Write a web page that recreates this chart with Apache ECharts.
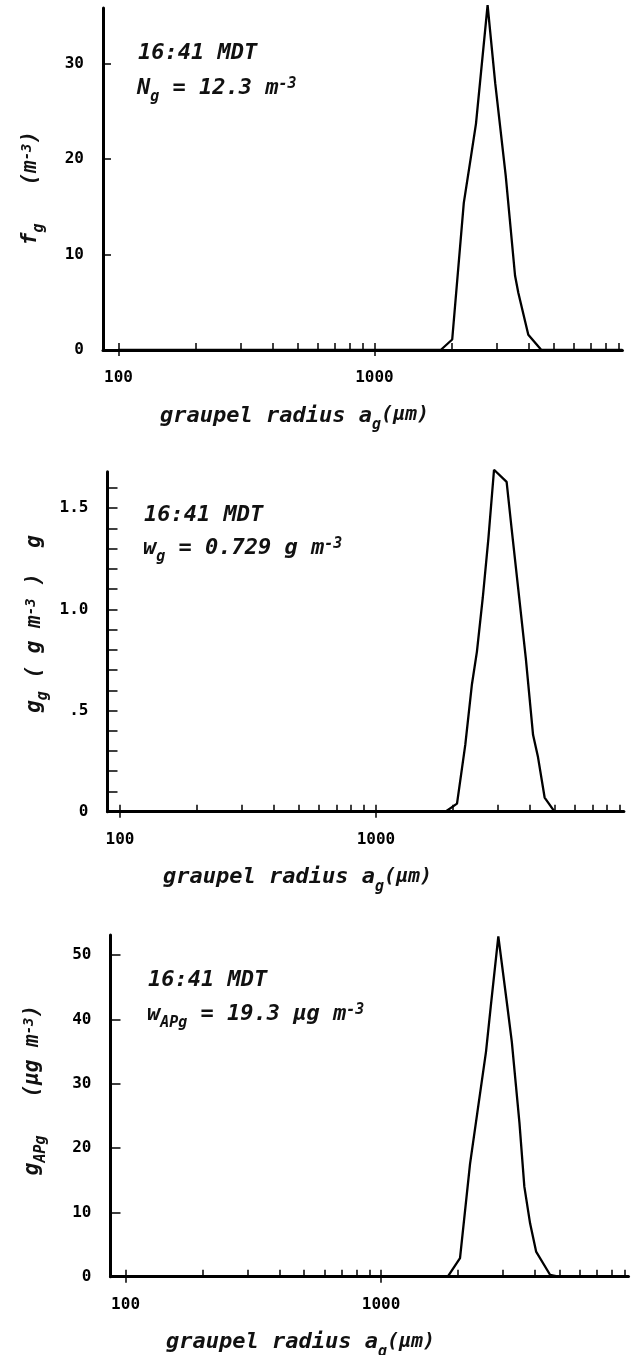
<!DOCTYPE html>
<html>
<head>
<meta charset="utf-8">
<script src="https://cdn.jsdelivr.net/npm/echarts@6/dist/echarts.min.js"></script>
<style>
html,body{margin:0;padding:0;background:#fff;}
#c{width:631px;height:1355px;}
</style>
</head>
<body>
<div id="c"></div>
<script>
// ---------- data ----------
const radiusF = [100, 1814, 2012, 2233, 2371, 2492, 2766, 2963, 3257, 3540, 3646, 3989, 4487, 9300];
const fG      = [0,   0,    1.1,  15.4, 19.9, 23.7, 36.1, 27.9, 18.2, 7.8,  6.0,  1.6,  0,    0];

const radiusW = [100, 1867, 2073, 2233, 2371, 2479, 2615, 2749, 2892, 3239, 3387, 3625, 3848, 4108, 4295, 4559, 4985, 9300];
const wG      = [0,   0,    0.04, 0.33, 0.63, 0.79, 1.06, 1.35, 1.69, 1.63, 1.40, 1.06, 0.76, 0.38, 0.27, 0.07, 0,    0];

const radiusA = [100, 1824, 2037, 2229, 2381, 2575, 2687, 2877, 3121, 3249, 3479, 3637, 3830, 4044, 4585, 4942, 9300];
const gAP     = [0,   0,    2.9,  17.5, 25.5, 35.0, 42.0, 52.9, 42.0, 36.5, 24.0, 14.0, 8.3,  3.9,  0.3,  0,    0];

// tick values / tick labels
const xTickValues  = [100, 200, 300, 400, 500, 600, 700, 800, 900, 1000, 2000, 3000, 4000, 5000, 6000, 7000, 8000, 9000];
const xLabelValues = [100, 1000];
const yTicksF  = [10, 20, 30];
const yLabelsF = [0, 10, 20, 30];
const yTicksW  = [0.1, 0.2, 0.3, 0.4, 0.5, 0.6, 0.7, 0.8, 0.9, 1.0, 1.1, 1.2, 1.3, 1.4, 1.5, 1.6];
const yLabelsW = [0, 0.5, 1.0, 1.5];
const yLabelTextW = ['0', '.5', '1.0', '1.5'];
const yTicksA  = [10, 20, 30, 40, 50];
const yLabelsA = [0, 10, 20, 30, 40, 50];

// texts
const timeText = '16:41 MDT';
const infoF = '{a|N}{s|g}{a| = 12.3 m}{p|-3}';
const infoW = '{a|w}{s|g}{a| = 0.729 g m}{p|-3}';
const infoA = '{a|w}{s|APg}{a| = 19.3 μg m}{p|-3}';
const xTitle = '{a|graupel radius a}{s|g}{q|(μm)}';
const yTitleF = '{b|f}{t|g}{b|   (m}{u|-3}{b|)}';
const yTitleW = '{b|g}{t|g}{b| ( g m}{u|-3}{b| )  g}';
const yTitleA = '{b|g}{t|APg}{b|   (μg m}{u|-3}{b|)}';

// ---------- layout ----------
const MONO = '"DejaVu Sans Mono", "Liberation Mono", monospace';
const X_MAX = 9300;
const panels = [
  {left: 103,   top: 8,     height: 342,   xMin: 87,   decade: 256,   yMax: 35.8, x: radiusF, y: fG,
   yTicks: yTicksF, yLabels: yLabelsF, yFmt: v => String(v), tickLen: 8,
   info: infoF, infoX: 137, timeY: 42, infoY: 77, yTitle: yTitleF, yTitleX: 32, yTitleY: 188, xTitleX: 160},
  {left: 107.5, top: 471.8, height: 339.9, xMin: 89.4, decade: 256,   yMax: 1.68, x: radiusW, y: wG,
   yTicks: yTicksW, yLabels: yLabelsW, yFmt: v => yLabelTextW[yLabelsW.indexOf(v)] || String(v), tickLen: 10,
   info: infoW, infoX: 143, timeY: 504, infoY: 537, yTitle: yTitleW, yTitleX: 36, yTitleY: 624, xTitleX: 163},
  {left: 110.5, top: 935.1, height: 341.6, xMin: 87.3, decade: 255.5, yMax: 53.1, x: radiusA, y: gAP,
   yTicks: yTicksA, yLabels: yLabelsA, yFmt: v => String(v), tickLen: 10,
   info: infoA, infoX: 147, timeY: 969, infoY: 1003, yTitle: yTitleA, yTitleX: 34, yTitleY: 1090, xTitleX: 166}
];

function tok(size, extra) {
  return Object.assign({fontFamily: MONO, fontSize: size, fontStyle: 'italic', fontWeight: 'bold',
                        fill: '#111', lineHeight: size + 2, verticalAlign: 'top'}, extra || {});
}
const richInfo = {
  a: tok(22, {lineHeight: 24}),
  s: tok(15, {lineHeight: 15, padding: [13, 0, 0, 0]}),
  p: tok(15, {lineHeight: 15, padding: [0, 0, 0, 0]}),
  q: tok(20, {lineHeight: 20, padding: [0, 0, 0, 0]})
};
const richTitle = {
  b: tok(21, {lineHeight: 23}),
  t: tok(15, {lineHeight: 15, padding: [11, 0, 0, 0]}),
  u: tok(14, {lineHeight: 14, padding: [0, 0, 0, 0]})
};

const grids = [], xAxes = [], yAxes = [], series = [], graphics = [];
panels.forEach((p, i) => {
  const width = Math.log10(X_MAX / p.xMin) * p.decade;
  grids.push({left: p.left, top: p.top, width: width, height: p.height, containLabel: false, outerBoundsMode: 'none'});
  xAxes.push({
    type: 'log', logBase: 10, gridIndex: i, min: p.xMin, max: X_MAX, position: 'bottom',
    axisLine: {show: true, onZero: false, lineStyle: {color: '#000', width: 3}},
    axisTick: {show: true, inside: true, length: 7, customValues: xTickValues, lineStyle: {color: '#000', width: 1.5}},
    axisLabel: {show: true, customValues: xLabelValues, margin: 20, color: '#000', fontFamily: MONO,
                fontWeight: 'bold', fontSize: 16, formatter: v => String(Math.round(v))},
    splitLine: {show: false}, minorTick: {show: false}, minorSplitLine: {show: false}
  });
  xAxes.push({
    type: 'log', logBase: 10, gridIndex: i, min: p.xMin, max: X_MAX, position: 'bottom',
    axisLine: {show: false},
    axisTick: {show: true, inside: false, length: 6, customValues: xLabelValues, lineStyle: {color: '#000', width: 1.5}},
    axisLabel: {show: false}, splitLine: {show: false}
  });
  yAxes.push({
    type: 'value', gridIndex: i, min: 0, max: p.yMax,
    axisLine: {show: true, onZero: false, lineStyle: {color: '#000', width: 3}},
    axisTick: {show: true, inside: true, length: p.tickLen, customValues: p.yTicks, lineStyle: {color: '#000', width: 1.5}},
    axisLabel: {show: true, customValues: p.yLabels, margin: 19, color: '#000', fontFamily: MONO,
                fontWeight: 'bold', fontSize: 16, formatter: p.yFmt},
    splitLine: {show: false}
  });
  series.push({
    type: 'line', xAxisIndex: 2 * i, yAxisIndex: i,
    data: p.x.map((r, k) => [r, p.y[k]]),
    showSymbol: false, symbol: 'none', clip: false, silent: true,
    lineStyle: {color: '#000', width: 2.3}
  });
  const axisY = p.top + p.height;
  graphics.push({type: 'text', x: p.infoX + 1, y: p.timeY, silent: true,
    style: {text: '{a|' + timeText + '}', rich: richInfo, fill: '#111', align: 'left', verticalAlign: 'top'}});
  graphics.push({type: 'text', x: p.infoX, y: p.infoY, silent: true,
    style: {text: p.info, rich: richInfo, fill: '#111', align: 'left', verticalAlign: 'top'}});
  graphics.push({type: 'text', x: p.xTitleX, y: axisY + 55, silent: true,
    style: {text: xTitle, rich: richInfo, fill: '#111', align: 'left', verticalAlign: 'top'}});
  graphics.push({type: 'text', x: p.yTitleX, y: p.yTitleY, rotation: Math.PI / 2, silent: true,
    style: {text: p.yTitle, rich: richTitle, fill: '#111', align: 'center', verticalAlign: 'middle'}});
});

const chart = echarts.init(document.getElementById('c'), null, {renderer: 'canvas'});
chart.setOption({
  animation: false,
  backgroundColor: '#fff',
  grid: grids,
  xAxis: xAxes,
  yAxis: yAxes,
  series: series,
  graphic: {elements: graphics}
});
</script>
</body>
</html>
